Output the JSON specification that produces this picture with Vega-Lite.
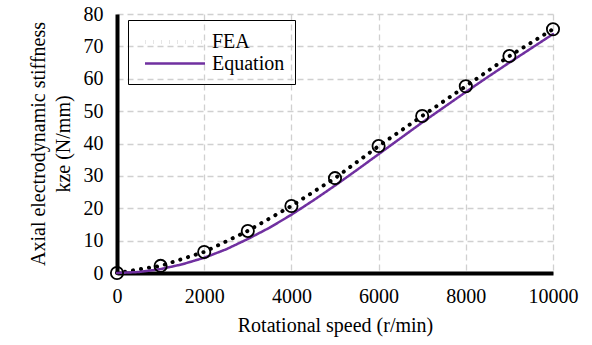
{
  "$schema": "https://vega.github.io/schema/vega-lite/v6.json",
  "width": 436,
  "height": 259,
  "autosize": {"type": "none"},
  "padding": {"left": 117, "top": 14, "right": 39, "bottom": 72},
  "background": "white",
  "config": {
    "font": "Times New Roman",
    "view": {"stroke": null},
    "axis": {
      "labelFont": "Times New Roman",
      "titleFont": "Times New Roman",
      "labelFontSize": 20,
      "titleFontSize": 20,
      "labelColor": "black",
      "titleColor": "black",
      "titleFontWeight": "normal",
      "domainColor": "black",
      "domainWidth": 4,
      "ticks": false,
      "gridColor": "#d0d0d0",
      "gridDash": [6, 4],
      "gridWidth": 1.3
    },
    "legend": {
      "labelFont": "Times New Roman"
    }
  },
  "data": {
    "values": [
      {"series": "FEA", "speed": 0, "k": 0},
      {"series": "FEA", "speed": 1000, "k": 2.2},
      {"series": "FEA", "speed": 2000, "k": 6.5},
      {"series": "FEA", "speed": 3000, "k": 13},
      {"series": "FEA", "speed": 4000, "k": 20.7},
      {"series": "FEA", "speed": 5000, "k": 29.3},
      {"series": "FEA", "speed": 6000, "k": 39.2},
      {"series": "FEA", "speed": 7000, "k": 48.5},
      {"series": "FEA", "speed": 8000, "k": 57.7},
      {"series": "FEA", "speed": 9000, "k": 67},
      {"series": "FEA", "speed": 10000, "k": 75.3},
      {"series": "Equation", "speed": 0, "k": 0},
      {"series": "Equation", "speed": 500, "k": 0.3},
      {"series": "Equation", "speed": 1000, "k": 1.2},
      {"series": "Equation", "speed": 1500, "k": 2.7},
      {"series": "Equation", "speed": 2000, "k": 4.7},
      {"series": "Equation", "speed": 2500, "k": 7.3},
      {"series": "Equation", "speed": 3000, "k": 10.5},
      {"series": "Equation", "speed": 3500, "k": 14},
      {"series": "Equation", "speed": 4000, "k": 18},
      {"series": "Equation", "speed": 4500, "k": 22.4},
      {"series": "Equation", "speed": 5000, "k": 27},
      {"series": "Equation", "speed": 5500, "k": 31.8},
      {"series": "Equation", "speed": 6000, "k": 36.7},
      {"series": "Equation", "speed": 6500, "k": 41.6},
      {"series": "Equation", "speed": 7000, "k": 46.5},
      {"series": "Equation", "speed": 7500, "k": 51.2},
      {"series": "Equation", "speed": 8000, "k": 55.9},
      {"series": "Equation", "speed": 8500, "k": 60.5},
      {"series": "Equation", "speed": 9000, "k": 65},
      {"series": "Equation", "speed": 9500, "k": 69.4},
      {"series": "Equation", "speed": 10000, "k": 73.8}
    ]
  },
  "encoding": {
    "x": {
      "field": "speed", "type": "quantitative",
      "scale": {"domain": [0, 10000], "nice": false},
      "axis": {"values": [0, 2000, 4000, 6000, 8000, 10000], "format": "d", "labelPadding": 13, "title": "Rotational speed (r/min)", "titlePadding": 9, "labelFlush": false}
    },
    "y": {
      "field": "k", "type": "quantitative",
      "scale": {"domain": [0, 80], "nice": false},
      "axis": {"values": [0, 10, 20, 30, 40, 50, 60, 70, 80], "labelPadding": 14, "title": ["Axial electrodynamic stiffness", "kze (N/mm)"], "titlePadding": 10, "titleLineHeight": 25}
    }
  },
  "layer": [
    {
      "mark": {"type": "line", "strokeCap": "round"},
      "encoding": {
        "color": {
          "field": "series", "type": "nominal",
          "scale": {"domain": ["FEA", "Equation"], "range": ["black", "#7030A0"]},
          "legend": {
            "title": null,
            "orient": "none",
            "legendX": 11,
            "legendY": 6,
            "strokeColor": "black",
            "padding": 10,
            "symbolType": "M-0.5,0H5.5",
            "symbolSize": 400,
            "symbolStrokeWidth": 3.5,
            "labelFontSize": 20,
            "labelColor": "black",
            "labelOffset": 50,
            "rowPadding": 0
          }
        },
        "strokeDash": {
          "field": "series", "type": "nominal",
          "scale": {"domain": ["FEA", "Equation"], "range": [[0.1, 8], [1, 0]]},
          "legend": null
        },
        "strokeWidth": {
          "field": "series", "type": "nominal",
          "scale": {"domain": ["FEA", "Equation"], "range": [4, 2.5]},
          "legend": null
        }
      }
    },
    {
      "transform": [{"filter": "datum.series === 'FEA'"}],
      "mark": {"type": "point", "shape": "circle", "size": 150, "filled": false, "stroke": "black", "strokeWidth": 1.8, "opacity": 1},
      "encoding": {}
    }
  ]
}
